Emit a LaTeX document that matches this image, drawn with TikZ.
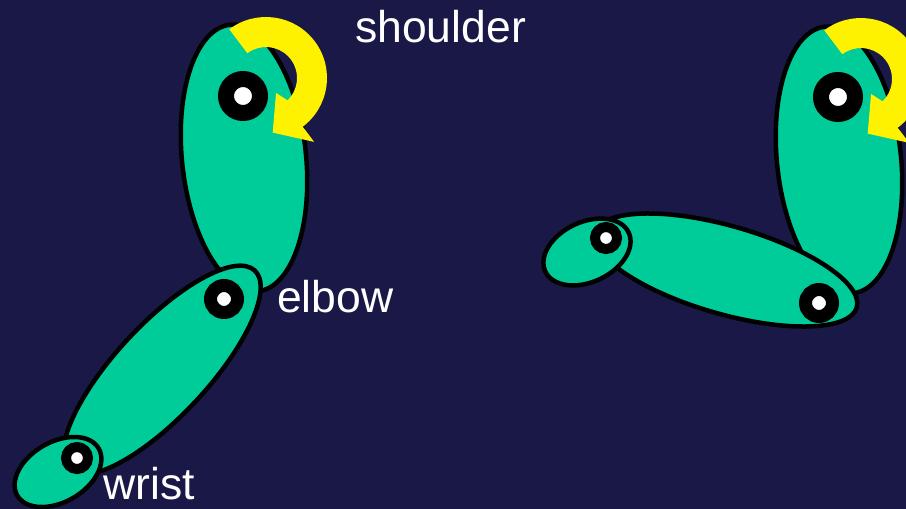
\documentclass[tikz,border=0pt]{standalone}
\usepackage{fontspec}
\setmainfont{Liberation Sans}
\definecolor{bgnavy}{RGB}{26,24,70}
\definecolor{limbteal}{RGB}{0,204,153}

\begin{document}
\begin{tikzpicture}[x=1pt,y=-1pt,
  limb/.style={draw=black,line width=4.5pt,fill=limbteal},
  joint/.style 2 args={circle,draw=black,fill=white,inner sep=0pt,line width=#1-#2,minimum size=#1+#2},
  turn/.style={fill=yellow},
  tag/.style={text=white,font=\fontsize{44.5}{50}\selectfont,inner sep=0pt,anchor=base west}]
\fill[bgnavy] (0,0) rectangle (906,509);
\clip (0,0) rectangle (906,509);
% left arm
\draw[limb,rotate around={6:(244,158)}] (244,158) ellipse[x radius=62,y radius=134];
\draw[limb,rotate around={47:(162,370)}] (162,370) ellipse[x radius=136,y radius=46];
\draw[limb,rotate around={30:(58,472)}] (58,472) ellipse[x radius=47,y radius=30];
\node[joint={25pt}{9pt}] (shoulderL) at (243,96) {};
\node[joint={20pt}{7pt}] (elbowL) at (224,299) {};
\node[joint={16pt}{6pt}] (wristL) at (77,458) {};
\fill[turn,shift={(266,78)},yscale=-1] (127:61) arc[start angle=127,end angle=-53,radius=61]
  -- (-53:80) -- (-83:55) -- (-56:18) -- (-46:31) arc[start angle=-46,end angle=127,radius=31] -- cycle;
% right arm
\draw[limb,rotate around={6:(839,160)}] (839,160) ellipse[x radius=62,y radius=134];
\draw[limb,rotate around={-16:(726,270)}] (726,270) ellipse[x radius=136,y radius=44];
\draw[limb,rotate around={25:(587,252)}] (587,252) ellipse[x radius=46,y radius=30];
\node[joint={25pt}{9pt}] (shoulderR) at (838,97) {};
\node[joint={20pt}{7pt}] (elbowR) at (819,303) {};
\node[joint={16pt}{6pt}] (wristR) at (606,238) {};
\fill[turn,shift={(861,79)},yscale=-1] (127:61) arc[start angle=127,end angle=-53,radius=61]
  -- (-53:80) -- (-83:55) -- (-56:18) -- (-46:31) arc[start angle=-46,end angle=127,radius=31] -- cycle;
% labels
\node[tag] (shoulderTag) at (355,42) {shoulder};
\node[tag] (elbowTag) at (277,312) {elbow};
\node[tag] (wristTag) at (103,499) {wrist};
\end{tikzpicture}
\end{document}
